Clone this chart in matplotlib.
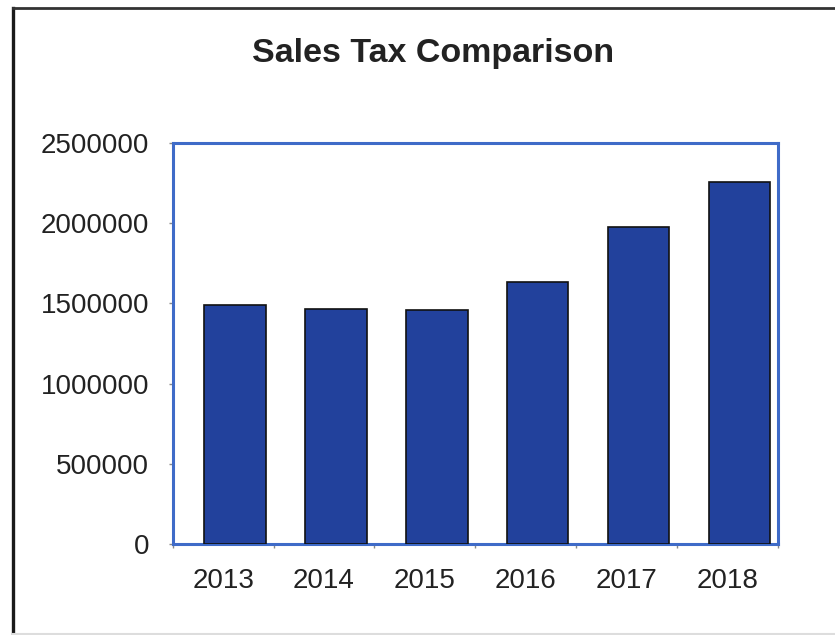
import numpy as np
import matplotlib.pyplot as plt
from matplotlib.lines import Line2D

plt.rcParams['font.family'] = ['Liberation Sans', 'DejaVu Sans']
plt.rcParams['font.size'] = 20

years = ['2013', '2014', '2015', '2016', '2017', '2018']
sales_tax = [1490000, 1467000, 1457000, 1635000, 1978000, 2254000]
y_ticks = [0, 500000, 1000000, 1500000, 2000000, 2500000]

bar_color = '#22419c'
spine_color = '#3f6bc8'

fig = plt.figure(figsize=(8.35, 6.35), dpi=100)
ax = fig.add_axes([0.2068, 0.1428, 0.7246, 0.6324])

x = np.arange(len(years))
ax.bar(x + 0.12, sales_tax, width=0.61, color=bar_color, edgecolor='#111111', linewidth=1.2, zorder=3)
ax.axhline(0, color='#222222', lw=1.8, zorder=2)

ax.set_xlim(-0.5, len(years) - 0.5)
ax.set_ylim(0, 2500000)
ax.set_yticks(y_ticks)
ax.set_yticklabels([str(v) for v in y_ticks])
ax.set_xticks(x)
ax.set_xticklabels(years)
ax.set_xticks(np.arange(len(years) + 1) - 0.5, minor=True)

ax.tick_params(axis='y', length=3, width=1, color='#888888', pad=14, labelcolor='#222222')
ax.tick_params(axis='x', which='major', length=0, pad=17, labelcolor='#222222')
ax.tick_params(axis='x', which='minor', length=3, width=1, color='#888888', direction='out')

for side in ['top', 'right', 'left', 'bottom']:
    ax.spines[side].set_color(spine_color)
    ax.spines[side].set_linewidth(2.2)

fig.text(0.519, 0.915, 'Sales Tax Comparison', ha='center', va='center',
         fontsize=24.5, fontweight='bold', color='#222222')

# outer frame
fig.add_artist(Line2D([0.016, 0.016], [0, 0.988], transform=fig.transFigure, color='#1a1a1a', lw=2.4))
fig.add_artist(Line2D([0.016, 1.0], [0.988, 0.988], transform=fig.transFigure, color='#333333', lw=2.0))
fig.add_artist(Line2D([0.016, 1.0], [0.002, 0.002], transform=fig.transFigure, color='#dddddd', lw=1.5))

plt.savefig('out.png', dpi=100)
